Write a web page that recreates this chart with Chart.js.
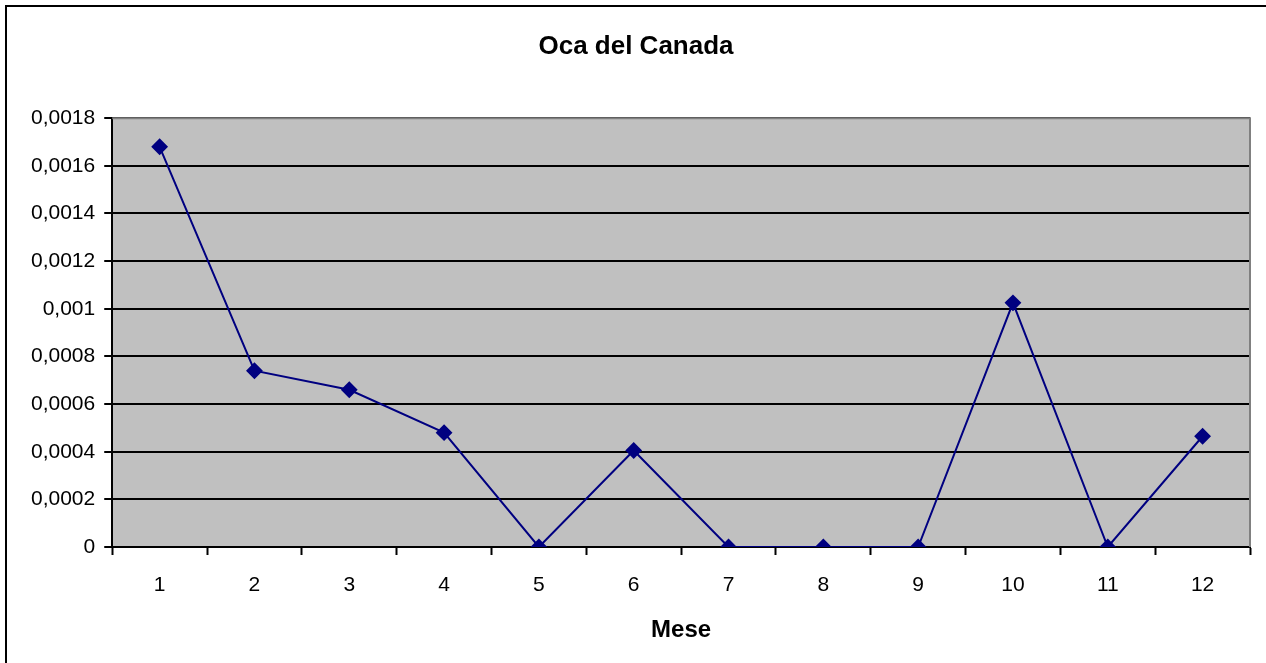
<!DOCTYPE html>
<html>
<head>
<meta charset="utf-8">
<script src="https://cdn.jsdelivr.net/npm/chart.js@4"></script>
<style>
  html, body { margin: 0; padding: 0; background: #fff; }
  #wrap { position: relative; width: 1266px; height: 663px; }
</style>
</head>
<body>
<div id="wrap"><canvas id="ocachart"></canvas></div>
<script>
const mesi = ['1', '2', '3', '4', '5', '6', '7', '8', '9', '10', '11', '12'];
const valori = [0.00168, 0.00074, 0.00066, 0.00048, 0, 0.000405, 0, 0, 0, 0.001025, 0, 0.000465];
const yMin = 0;
const yMax = 0.0018;
const yStep = 0.0002;

// plot area background, frame and the thin grey border of the plot
const sfondo = {
    id: 'sfondo',
    beforeDraw(chart) {
        const { ctx, chartArea: a } = chart;
        ctx.save();
        ctx.fillStyle = '#C0C0C0';
        ctx.fillRect(a.left, a.top, a.right - a.left, a.bottom - a.top);
        ctx.strokeStyle = '#000';
        ctx.lineWidth = 2;
        ctx.beginPath();
        ctx.moveTo(6, 700);
        ctx.lineTo(6, 6);
        ctx.lineTo(1300, 6);
        ctx.stroke();
        ctx.restore();
    },
    afterDatasetsDraw(chart) {
        const { ctx, chartArea: a } = chart;
        ctx.save();
        ctx.strokeStyle = '#808080';
        ctx.lineWidth = 2;
        ctx.beginPath();
        ctx.moveTo(a.left, a.top);
        ctx.lineTo(a.right, a.top);
        ctx.lineTo(a.right, a.bottom);
        ctx.stroke();
        ctx.restore();
    }
};

const ctx = document.getElementById('ocachart').getContext('2d');
new Chart(ctx, {
    type: 'line',
    data: {
        labels: mesi,
        datasets: [{
            label: 'Oca del Canada',
            data: valori,
            borderColor: '#000080',
            backgroundColor: '#000080',
            borderWidth: 2,
            pointStyle: 'rectRot',
            pointRadius: 7,
            pointHoverRadius: 7,
            tension: 0,
        }]
    },
    options: {
        responsive: true,
        maintainAspectRatio: false,
        animation: false,
        layout: {
            padding: { top: 0, left: 22, right: 16, bottom: 18 }
        },
        plugins: {
            legend: { display: false },
            tooltip: { enabled: false },
            title: {
                display: true,
                text: 'Oca del Canada',
                color: '#000',
                font: { family: 'Liberation Sans', size: 26, weight: 'bold' },
                padding: { top: 31, bottom: 56 },
            },
        },
        scales: {
            x: {
                offset: true,
                grid: {
                    offset: true,
                    drawOnChartArea: false,
                    color: '#000',
                    tickLength: 8,
                    tickWidth: 2,
                },
                border: { color: '#000', width: 2 },
                ticks: {
                    color: '#000',
                    padding: 18,
                    font: { family: 'Liberation Sans', size: 21 },
                },
                title: {
                    display: true,
                    text: 'Mese',
                    color: '#000',
                    font: { family: 'Liberation Sans', size: 24, weight: 'bold' },
                    padding: { top: 0, bottom: 0 },
                },
            },
            y: {
                min: yMin,
                max: yMax,
                grid: {
                    color: '#000',
                    lineWidth: 2,
                    tickLength: 8,
                },
                border: { color: '#000', width: 2 },
                ticks: {
                    stepSize: yStep,
                    color: '#000',
                    padding: 9,
                    font: { family: 'Liberation Sans', size: 21 },
                    callback: function (value) {
                        return Number(value.toFixed(4)).toString().replace('.', ',');
                    },
                },
            },
        },
    },
    plugins: [sfondo],
});
</script>
</body>
</html>
